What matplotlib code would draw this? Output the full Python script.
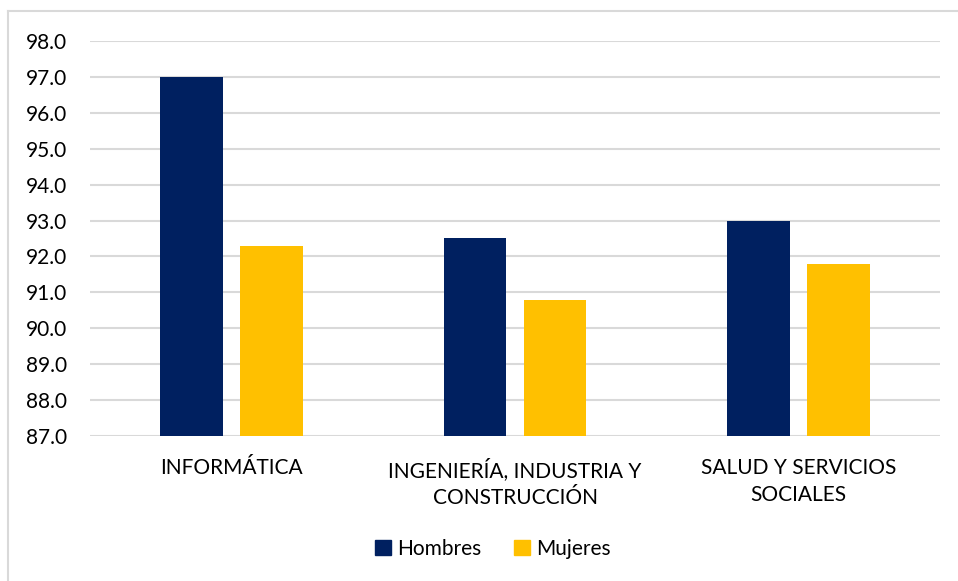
import matplotlib
matplotlib.use("Agg")
import matplotlib.pyplot as plt
import numpy as np
from matplotlib.lines import Line2D

categories = ["INFORMÁTICA", "INGENIERÍA, INDUSTRIA Y\nCONSTRUCCIÓN", "SALUD Y SERVICIOS\nSOCIALES"]
hombres = [97.0, 92.5, 93.0]
mujeres = [92.3, 90.8, 91.8]
series_names = ["Hombres", "Mujeres"]
yticks = [87.0, 88.0, 89.0, 90.0, 91.0, 92.0, 93.0, 94.0, 95.0, 96.0, 97.0, 98.0]

plt.rcParams['font.family'] = ['Lato', 'DejaVu Sans']

W, H = 958, 581
fig = plt.figure(figsize=(W/100, H/100), dpi=100)
ax = fig.add_axes([90/W, 1-436/H, (940-90)/W, (436-41)/H])

x = np.arange(len(categories))
bw = 0.222
off = 0.141
ax.bar(x - off, hombres, bw, color="#002060", label=series_names[0], zorder=3)
ax.bar(x + off, mujeres, bw, color="#FFC000", label=series_names[1], zorder=3)

ax.set_ylim(87, 98)
ax.set_xlim(-0.5, 2.5)
ax.set_yticks(yticks)
ax.set_yticklabels([f"{v:.1f}" for v in yticks], fontsize=15, color="#000000")
ax.set_xticks(x)
ax.set_xticklabels(categories, fontsize=15, linespacing=1.45)
ax.tick_params(axis='both', length=0)
ax.tick_params(axis='y', pad=46)
for lab in ax.get_yticklabels():
    lab.set_horizontalalignment('left')
ax.tick_params(axis='x', pad=16)
ax.grid(axis='y', color="#d9d9d9", linewidth=1.5, zorder=0)
for s in ax.spines.values():
    s.set_visible(False)

handles = [plt.Rectangle((0, 0), 1, 1, color="#002060"), plt.Rectangle((0, 0), 1, 1, color="#FFC000")]
fig.legend(handles, series_names, loc='center', bbox_to_anchor=(493/W, 1-549/H),
           ncol=2, frameon=False, fontsize=15, handlelength=0.75, handleheight=0.75,
           handletextpad=0.3, columnspacing=1.6)

fig.add_artist(Line2D([8/W, 8/W], [1-11/H, 0], color="#d9d9d9", linewidth=1.5))
fig.add_artist(Line2D([8/W, 1], [1-11/H, 1-11/H], color="#d9d9d9", linewidth=1.5))

fig.savefig("out.png", dpi=100)
